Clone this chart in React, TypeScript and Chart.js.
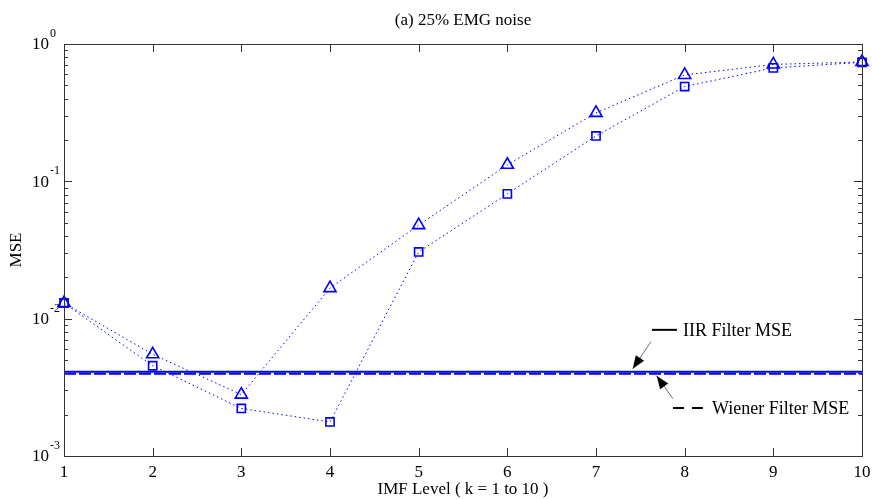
import { useEffect, useRef } from 'react';
import { Chart, registerables } from 'chart.js';

Chart.register(...registerables);

// ---- data ----
const imfLevels = [1, 2, 3, 4, 5, 6, 7, 8, 9, 10];
const triangleSeries = [0.013, 0.0055, 0.0028, 0.0167, 0.048, 0.132, 0.315, 0.595, 0.71, 0.74];
const squareSeries = [0.013, 0.00454, 0.00222, 0.00177, 0.0306, 0.081, 0.214, 0.49, 0.67, 0.735];
const iirMse = 0.0041;
const wienerMse = 0.00397;
const yDecades = [0.001, 0.01, 0.1, 1];
const yExponents = ['-3', '-2', '-1', '0'];
const titleText = '(a) 25% EMG noise';
const xTitle = 'IMF Level ( k = 1 to 10 )';
const yTitle = 'MSE';
const iirLabel = 'IIR Filter MSE';
const wienerLabel = 'Wiener Filter MSE';

// annotation anchors in data coordinates
const iirNote = { lineX0: 7.631, lineX1: 7.913, lineY: 0.00829, textX: 7.981, arrowFrom: [7.62, 0.00681], arrowTo: [7.414, 0.00431] };
const wienerNote = { lineX0: 7.868, lineX1: 8.206, lineY: 0.002232, textX: 8.308, arrowFrom: [7.868, 0.00261], arrowTo: [7.684, 0.003835] };

const SERIF = '"Liberation Serif", "Times New Roman", serif';
const BLUE = '#0000ff';

function drawArrow(ctx: CanvasRenderingContext2D, x1: number, y1: number, x2: number, y2: number) {
  ctx.save();
  ctx.strokeStyle = '#707070';
  ctx.lineWidth = 1;
  ctx.setLineDash([]);
  ctx.beginPath();
  ctx.moveTo(x1, y1);
  ctx.lineTo(x2, y2);
  ctx.stroke();
  const ang = Math.atan2(y2 - y1, x2 - x1);
  const L = 13;
  const W = 5;
  const bx = x2 - L * Math.cos(ang);
  const by = y2 - L * Math.sin(ang);
  ctx.fillStyle = '#000';
  ctx.beginPath();
  ctx.moveTo(x2, y2);
  ctx.lineTo(bx + W * Math.sin(ang), by - W * Math.cos(ang));
  ctx.lineTo(bx - W * Math.sin(ang), by + W * Math.cos(ang));
  ctx.closePath();
  ctx.fill();
  ctx.restore();
}

const decorPlugin = {
  id: 'decor',
  afterDraw(chart: any) {
    const ctx: CanvasRenderingContext2D = chart.ctx;
    const { left, right, top, bottom } = chart.chartArea;
    const xs = chart.scales.x;
    const ys = chart.scales.y;
    ctx.save();
    // box
    ctx.strokeStyle = '#333';
    ctx.lineWidth = 1;
    ctx.strokeRect(Math.round(left) + 0.5, Math.round(top) + 0.5, Math.round(right - left), Math.round(bottom - top));
    // x ticks
    ctx.beginPath();
    for (const k of imfLevels) {
      const px = Math.round(xs.getPixelForValue(k)) + 0.5;
      ctx.moveTo(px, bottom);
      ctx.lineTo(px, bottom - 8);
      ctx.moveTo(px, top);
      ctx.lineTo(px, top + 8);
    }
    // y ticks
    for (let i = 0; i < yDecades.length; i++) {
      const d = yDecades[i];
      for (let m = 1; m <= 9; m++) {
        const v = d * m;
        if (i === yDecades.length - 1 && m > 1) break;
        const py = Math.round(ys.getPixelForValue(v)) + 0.5;
        const len = m === 1 ? 8 : 4;
        ctx.moveTo(left, py);
        ctx.lineTo(left + len, py);
        ctx.moveTo(right, py);
        ctx.lineTo(right - len, py);
      }
    }
    ctx.stroke();

    ctx.fillStyle = '#000';
    // x tick labels
    ctx.font = `17px ${SERIF}`;
    ctx.textAlign = 'center';
    ctx.textBaseline = 'alphabetic';
    for (const k of imfLevels) {
      ctx.fillText(String(k), xs.getPixelForValue(k), bottom + 21);
    }

    // y tick labels with superscripts
    for (let i = 0; i < yDecades.length; i++) {
      const py = ys.getPixelForValue(yDecades[i]);
      ctx.font = `17px ${SERIF}`;
      ctx.textAlign = 'right';
      ctx.textBaseline = 'middle';
      ctx.fillText('10', left - 15, py + 1);
      ctx.font = `12px ${SERIF}`;
      ctx.textAlign = 'left';
      ctx.fillText(yExponents[i], left - 14, py - 10);
    }

    // titles
    ctx.font = `17px ${SERIF}`;
    ctx.textAlign = 'center';
    ctx.textBaseline = 'alphabetic';
    ctx.fillText(titleText, (left + right) / 2, 25);
    ctx.fillText(xTitle, (left + right) / 2, 494);
    ctx.save();
    ctx.translate(21, (top + bottom) / 2);
    ctx.rotate(-Math.PI / 2);
    ctx.fillText(yTitle, 0, 0);
    ctx.restore();

    // annotations
    ctx.font = `18px ${SERIF}`;
    ctx.textAlign = 'left';
    ctx.textBaseline = 'alphabetic';
    // IIR
    let ly = ys.getPixelForValue(iirNote.lineY);
    ctx.strokeStyle = '#000';
    ctx.lineWidth = 2;
    ctx.setLineDash([]);
    ctx.beginPath();
    ctx.moveTo(xs.getPixelForValue(iirNote.lineX0), ly);
    ctx.lineTo(xs.getPixelForValue(iirNote.lineX1), ly);
    ctx.stroke();
    ctx.fillText(iirLabel, xs.getPixelForValue(iirNote.textX), ly + 6);
    drawArrow(ctx, xs.getPixelForValue(iirNote.arrowFrom[0]), ys.getPixelForValue(iirNote.arrowFrom[1]),
      xs.getPixelForValue(iirNote.arrowTo[0]), ys.getPixelForValue(iirNote.arrowTo[1]));
    // Wiener
    ly = ys.getPixelForValue(wienerNote.lineY);
    ctx.strokeStyle = '#000';
    ctx.lineWidth = 2;
    ctx.setLineDash([11, 8]);
    ctx.beginPath();
    ctx.moveTo(xs.getPixelForValue(wienerNote.lineX0), ly);
    ctx.lineTo(xs.getPixelForValue(wienerNote.lineX1), ly);
    ctx.stroke();
    ctx.setLineDash([]);
    ctx.fillText(wienerLabel, xs.getPixelForValue(wienerNote.textX), ly + 6);
    drawArrow(ctx, xs.getPixelForValue(wienerNote.arrowFrom[0]), ys.getPixelForValue(wienerNote.arrowFrom[1]),
      xs.getPixelForValue(wienerNote.arrowTo[0]), ys.getPixelForValue(wienerNote.arrowTo[1]));
    ctx.restore();
  },
};

export default function App() {
  const ref = useRef<HTMLCanvasElement | null>(null);
  useEffect(() => {
    if (!ref.current) return;
    const tri = imfLevels.map((k, i) => ({ x: k, y: triangleSeries[i] }));
    const sq = imfLevels.map((k, i) => ({ x: k, y: squareSeries[i] }));
    const first = imfLevels[0];
    const last = imfLevels[imfLevels.length - 1];
    const chart = new Chart(ref.current, {
      type: 'line',
      data: {
        datasets: [
          {
            label: 'IIR Filter MSE',
            data: [{ x: first, y: iirMse }, { x: last, y: iirMse }],
            borderColor: BLUE,
            borderWidth: 2,
            pointRadius: 0,
          },
          {
            label: 'Wiener Filter MSE',
            data: [{ x: first, y: wienerMse }, { x: last, y: wienerMse }],
            borderColor: BLUE,
            borderWidth: 2,
            borderDash: [12, 3],
            pointRadius: 0,
          },
          {
            label: 'Triangle',
            data: tri,
            borderColor: BLUE,
            borderWidth: 1,
            borderDash: [1.5, 3],
            pointStyle: 'triangle',
            pointRadius: 7,
            pointBorderWidth: 1.6,
            pointBorderColor: BLUE,
            pointBackgroundColor: 'rgba(0,0,0,0)',
            clip: false as any,
          },
          {
            label: 'Square',
            data: sq,
            borderColor: BLUE,
            borderWidth: 1,
            borderDash: [1.5, 3],
            pointStyle: 'rect',
            pointRadius: 5.8,
            pointBorderWidth: 1.6,
            pointBorderColor: BLUE,
            pointBackgroundColor: 'rgba(0,0,0,0)',
            clip: false as any,
          },
        ],
      },
      options: {
        animation: false,
        responsive: false,
        devicePixelRatio: 1,
        layout: { padding: { top: 44, right: 10, left: 0, bottom: 0 } },
        plugins: { legend: { display: false }, tooltip: { enabled: false }, title: { display: false } },
        elements: { line: { tension: 0 } },
        scales: {
          x: {
            type: 'linear',
            min: 1,
            max: 10,
            grid: { display: false },
            border: { display: false },
            ticks: { stepSize: 1, callback: () => '' },
            afterFit: (s: any) => { s.height = 43; },
          },
          y: {
            type: 'logarithmic',
            min: 0.001,
            max: 1,
            grid: { display: false },
            border: { display: false },
            ticks: { callback: () => '' },
            afterFit: (s: any) => { s.width = 64; },
          },
        },
      },
      plugins: [decorPlugin],
    });
    return () => chart.destroy();
  }, []);
  return (
    <div style={{ position: 'absolute', left: 0, top: 0, width: 872, height: 499, background: '#fff' }}>
      <canvas ref={ref} width={872} height={499} style={{ width: 872, height: 499, display: 'block' }} />
    </div>
  );
}
